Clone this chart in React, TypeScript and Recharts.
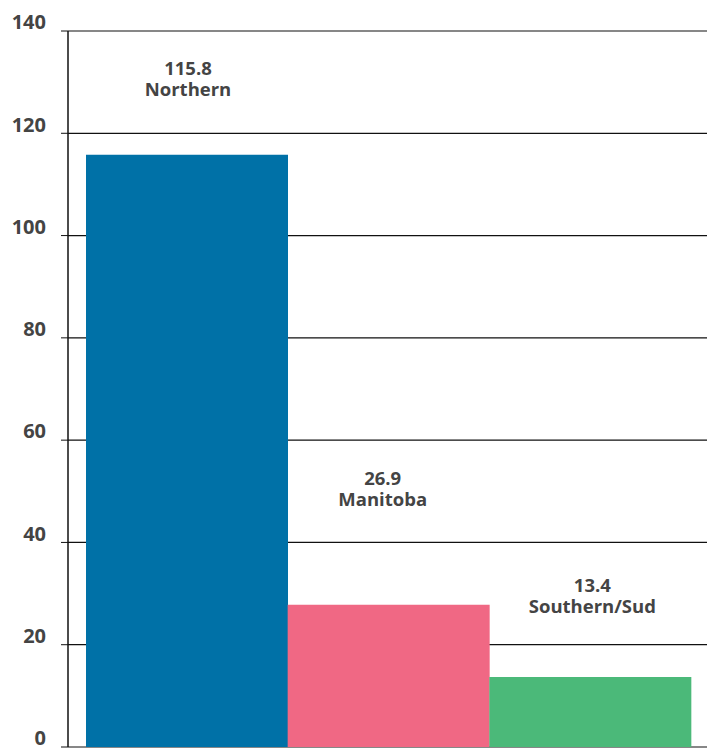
import React from "react";
import { BarChart, Bar, XAxis, YAxis, CartesianGrid, Cell, LabelList } from "recharts";

const regions = ["Northern", "Manitoba", "Southern/Sud"];
const barValues = [115.8, 27.8, 13.7];
const valueLabels = ["115.8", "26.9", "13.4"];
const yTicks = [0, 20, 40, 60, 80, 100, 120, 140];
const colors = ["#0071A7", "#F06884", "#4BB979"];

const data = regions.map((r, i) => ({ region: r, value: barValues[i], label: valueLabels[i] }));

// label placement (style only): distance of second line baseline above bar top, and horizontal nudge
const LABEL_RISE = [59, 99, 64];
const LABEL_DX = [1, -6, 2];

const FONT = "'Open Sans', Arial, sans-serif";

const YTick = (props: any) => {
  const { x, y, payload } = props;
  return (
    <text x={x} y={y - 7} textAnchor="end" dominantBaseline="middle" fill="#444" fontFamily={FONT} fontWeight={700} fontSize={20}>
      {payload.value}
    </text>
  );
};

const BarLabel = (props: any) => {
  const { x, y, width, index } = props;
  const cx = x + width / 2 + LABEL_DX[index];
  const base = y - LABEL_RISE[index];
  return (
    <g>
      <text x={cx} y={base - 21} textAnchor="middle" fill="#444" fontFamily={FONT} fontWeight={700} fontSize={18.5}>
        {valueLabels[index]}
      </text>
      <text x={cx} y={base} textAnchor="middle" fill="#444" fontFamily={FONT} fontWeight={700} fontSize={18.5}>
        {regions[index]}
      </text>
    </g>
  );
};

export default function App() {
  return (
    <div style={{ position: "absolute", top: 0, left: 0, width: 707, height: 751, background: "#fff", overflow: "hidden" }}>
      <BarChart
        width={707}
        height={751}
        data={data}
        margin={{ top: 31, right: 0, bottom: 4, left: 0 }}
        barCategoryGap={0}
      >
        <CartesianGrid vertical={false} stroke="#111" strokeWidth={1.2} />
        <XAxis
          dataKey="region"
          tick={false}
          tickLine={false}
          height={0}
          axisLine={{ stroke: "#333", strokeWidth: 2 }}
          padding={{ left: 18, right: 16 }}
        />
        <YAxis
          domain={[0, 140]}
          ticks={yTicks}
          width={68}
          interval={0}
          tickSize={7}
          tickMargin={15}
          tickLine={{ stroke: "#111" }}
          axisLine={{ stroke: "#111", strokeWidth: 1.5 }}
          tick={<YTick />}
        />
        <Bar dataKey="value" isAnimationActive={false}>
          {data.map((d, i) => (
            <Cell key={d.region} fill={colors[i]} />
          ))}
          <LabelList dataKey="label" content={<BarLabel />} />
        </Bar>
      </BarChart>
    </div>
  );
}
